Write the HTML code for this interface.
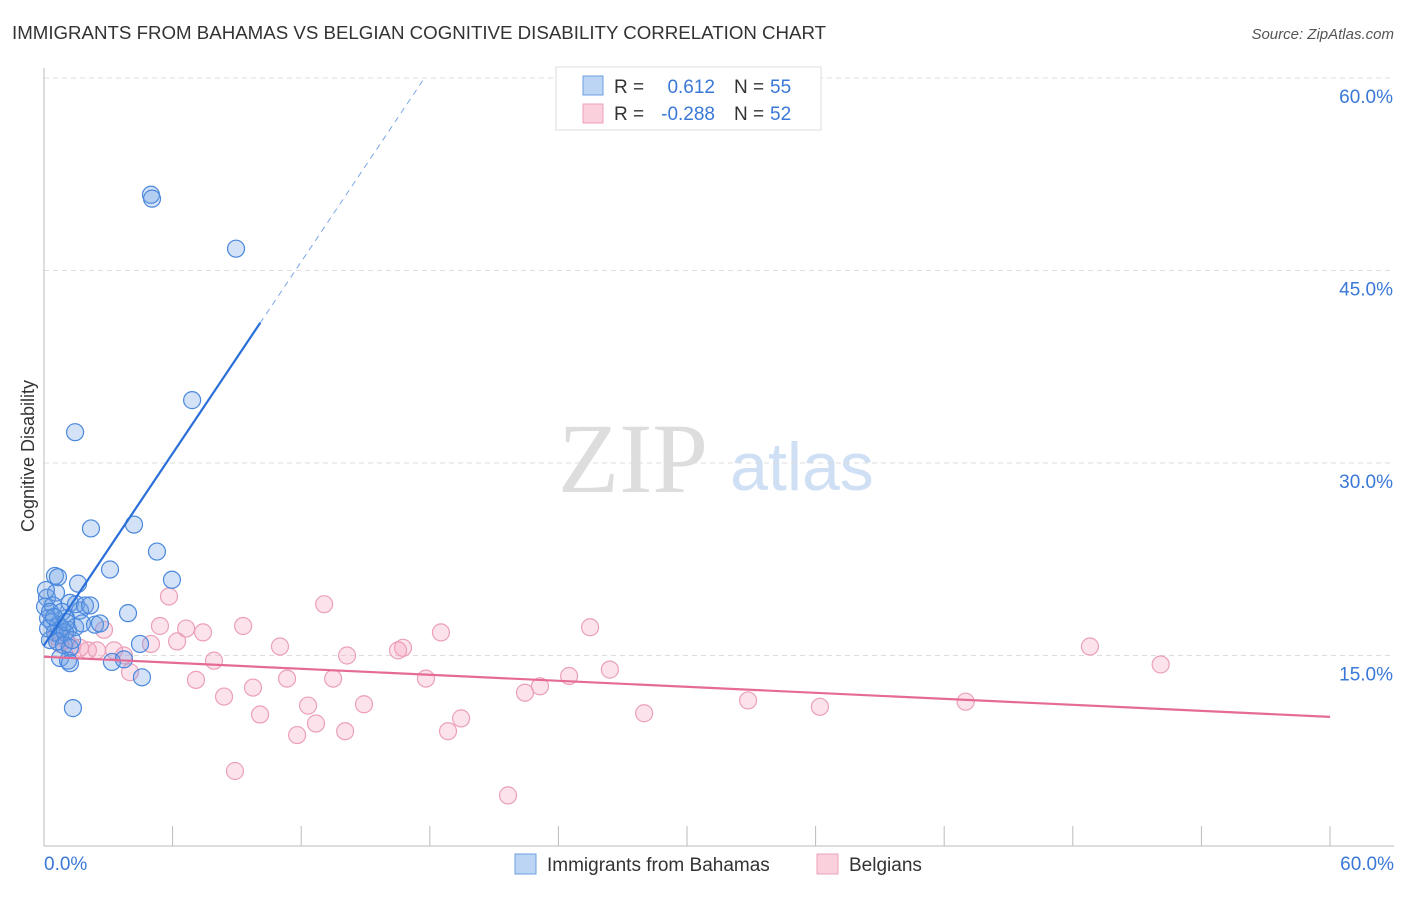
<!DOCTYPE html>
<html><head><meta charset="utf-8"><style>
body{margin:0;background:#fff;font-family:"Liberation Sans",sans-serif}
svg text{font-family:"Liberation Sans",sans-serif}
</style></head><body>
<svg id="c" width="1406" height="892">
<text x="12" y="39" font-size="18.7" fill="#333">IMMIGRANTS FROM BAHAMAS VS BELGIAN COGNITIVE DISABILITY CORRELATION CHART</text>
<text x="1394" y="39" font-size="15" fill="#555" font-style="italic" text-anchor="end">Source: ZipAtlas.com</text>
<g><text x="633" y="492" font-size="100" fill="#ddd" style="font-family:'Liberation Serif',serif" text-anchor="middle">ZIP</text><text x="802" y="490" font-size="68" fill="#cfe0f5" text-anchor="middle">atlas</text></g>
<text transform="translate(34,456) rotate(-90)" font-size="18" fill="#333" text-anchor="middle">Cognitive Disability</text>
<g id="grid"></g><g id="marks"></g>
<g>
<rect x="556" y="67" width="265" height="63" fill="#fff" stroke="#ddd"/>
<rect x="583" y="76" width="20" height="19" fill="#bcd5f5" stroke="#6a9fe0"/>
<rect x="583" y="104" width="20" height="19" fill="#fbd0dd" stroke="#eea0b8"/>
<text x="614" y="93" font-size="19" fill="#333">R = </text><text x="715" y="93" font-size="19" fill="#3a78d8" text-anchor="end">0.612</text>
<text x="734" y="93" font-size="19" fill="#333">N = </text><text x="770" y="93" font-size="19" fill="#3a78d8">55</text>
<text x="614" y="120" font-size="19" fill="#333">R = </text><text x="715" y="120" font-size="19" fill="#3a78d8" text-anchor="end">-0.288</text>
<text x="734" y="120" font-size="19" fill="#333">N = </text><text x="770" y="120" font-size="19" fill="#3a78d8">52</text>
</g>
<g>
<rect x="515" y="854" width="21" height="20" fill="#bcd5f5" stroke="#6a9fe0"/><text x="547" y="871" font-size="19" fill="#333">Immigrants from Bahamas</text>
<rect x="817" y="854" width="21" height="20" fill="#fbd0dd" stroke="#eea0b8"/><text x="849" y="871" font-size="19" fill="#333">Belgians</text>
</g>
</svg>
<script>
const blueX=[4.99,5.04,8.96,6.91,1.45,2.19,4.2,5.27,3.08,5.97,0.51,0.65,1.59,3.92,0.14,0.56,0.05,0.42,1.21,1.49,1.68,1.03,0.19,0.37,0.65,0.84,1.12,1.45,1.77,2.38,0.51,0.75,0.98,0.28,0.61,0.93,1.21,4.48,0.75,1.12,1.21,3.17,3.73,4.57,1.35,0.28,1.91,1.31,0.19,0.84,2.15,0.47,1.03,0.09,2.61];
const blueY=[50.9,50.6,46.7,34.9,32.4,24.9,25.2,23.1,21.7,20.9,21.2,21.1,20.6,18.3,19.5,19.9,18.8,18.9,19.1,19.0,18.5,17.9,17.9,17.6,17.4,17.1,17.0,17.2,17.5,17.4,16.8,16.6,16.8,16.2,16.1,15.8,15.6,15.9,14.8,14.6,14.4,14.5,14.7,13.3,10.9,18.4,18.9,16.2,17.1,18.4,18.9,18.0,17.6,20.1,17.5];
const pinkX=[5.83,13.07,25.48,18.52,9.29,5.41,6.63,7.42,2.80,6.21,4.99,11.01,16.75,16.52,1.31,2.05,2.47,3.27,3.73,7.93,14.14,48.8,52.1,26.4,24.5,4.01,11.34,13.49,17.82,7.09,23.14,8.40,9.75,22.44,14.93,12.32,32.85,43.0,36.2,28.0,19.46,10.08,12.69,14.05,11.81,18.85,8.91,21.65,0.56,0.75,1.68,1.03];
const pinkY=[19.6,19.0,17.2,16.8,17.3,17.3,17.1,16.8,17.0,16.1,15.9,15.7,15.6,15.4,15.7,15.4,15.4,15.4,15.0,14.6,15.0,15.7,14.3,13.9,13.4,13.7,13.2,13.2,13.2,13.1,12.6,11.8,12.5,12.1,11.2,11.1,11.5,11.4,11.0,10.5,10.1,10.4,9.7,9.1,8.8,9.1,6.0,4.1,16.5,15.9,15.6,16.2];
const yTicks=[15,30,45,60];
const blueTrend=[15.8,2.49];
const pinkTrend=[14.9,-0.078];
const X=v=>44+v/60*1286, Y=v=>848-v/60*770;
const NS="http://www.w3.org/2000/svg";
function mk(t,a,p){const e=document.createElementNS(NS,t);for(const k in a)e.setAttribute(k,a[k]);p.appendChild(e);return e;}
const g=document.getElementById('grid'),m=document.getElementById('marks');
yTicks.forEach(t=>{
 const l=mk('line',{x1:44,x2:1394,y1:Y(t),y2:Y(t),stroke:'#ddd','stroke-dasharray':'5,4'},g);
 
 
 const tx=mk('text',{x:1393,y:Y(t)+25,'font-size':19,fill:'#3a78d8','text-anchor':'end'},g);
 tx.textContent=t.toFixed(1)+'%';
 
 
});
mk('line',{x1:44,x2:44,y1:68,y2:846,stroke:'#bbb'},g);
mk('line',{x1:44,x2:1394,y1:846,y2:846,stroke:'#bbb'},g);
for(let i=0;i<=10;i++){const x=44+i*128.6;mk('line',{x1:x,x2:x,y1:826,y2:846,stroke:'#bbb'},g);}
let t1=mk('text',{x:44,y:870,'font-size':19,fill:'#3a78d8'},g);t1.textContent='0.0%';


let t2=mk('text',{x:1394,y:870,'font-size':19,fill:'#3a78d8','text-anchor':'end'},g);t2.textContent='60.0%';


pinkX.forEach((v,i)=>{const c=mk('circle',{cx:X(v),cy:Y(pinkY[i]),r:8.5,fill:'rgba(245,160,190,0.3)',stroke:'#eba0b8','stroke-width':1.2},m);
 
 });
blueX.forEach((v,i)=>{const c=mk('circle',{cx:X(v),cy:Y(blueY[i]),r:8.5,fill:'rgba(110,160,230,0.3)',stroke:'#4a88dd','stroke-width':1.2},m);
 
 });
const bx1=10.08,bx2=(60-blueTrend[0])/blueTrend[1];
let bl=mk('line',{x1:X(0),y1:Y(blueTrend[0]),x2:X(bx1),y2:Y(blueTrend[0]+blueTrend[1]*bx1),stroke:'#2a6fd8','stroke-width':2.2,'stroke-linecap':'round'},m);


let bd=mk('line',{x1:X(bx1),y1:Y(blueTrend[0]+blueTrend[1]*bx1),x2:X(bx2),y2:Y(60),stroke:'#7aa6e4','stroke-width':1,'stroke-dasharray':'6,5'},m);


let pl=mk('line',{x1:X(0),y1:Y(pinkTrend[0]),x2:X(60),y2:Y(pinkTrend[0]+pinkTrend[1]*60),stroke:'#e56b96','stroke-width':2.2},m);


</script>
</body></html>
